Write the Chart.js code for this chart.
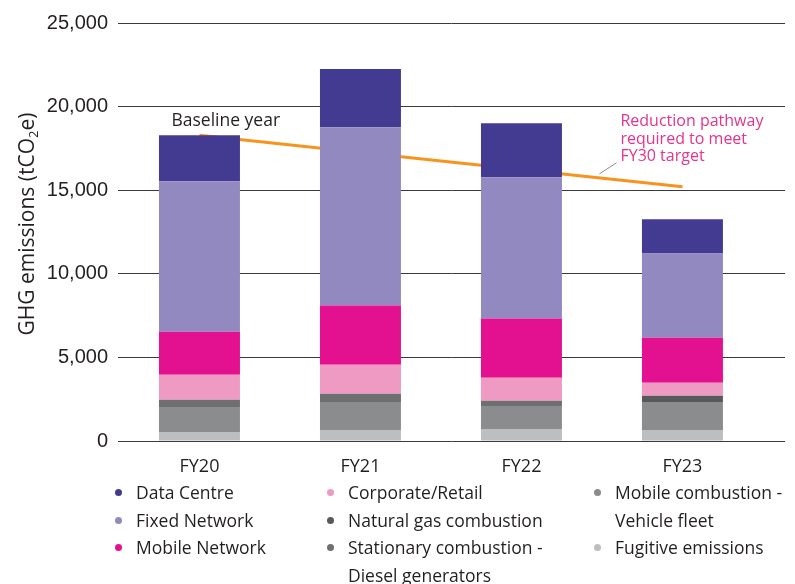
<!DOCTYPE html>
<html>
<head>
<meta charset="utf-8">
<script src="https://cdn.jsdelivr.net/npm/chart.js@4.4.1/dist/chart.umd.min.js"></script>
<style>
  html, body { margin: 0; padding: 0; background: #fff; }
  #wrap { position: relative; width: 795px; height: 584px; }
  #chartBox { position: absolute; left: 0; top: 0; width: 795px; height: 480px; }
  #legend { position: absolute; left: 0; top: 479px; width: 795px; font-family: 'Open Sans', sans-serif; font-size: 17.5px; color: #231f20; }
  .col { position: absolute; top: 0; }
  .item { position: relative; padding-left: 21px; line-height: 27.5px; white-space: nowrap; }
  .dot { position: absolute; left: 0; top: 10px; width: 7px; height: 7px; border-radius: 50%; }
</style>
</head>
<body>
<div id="wrap">
  <div id="chartBox"><canvas id="chart"></canvas></div>
  <div id="legend"></div>
</div>
<script>
// Chart data (tCO2e)
const categories = ['FY20', 'FY21', 'FY22', 'FY23'];
const dataCentre = [2760, 3480, 3240, 2040];
const fixedNetwork = [8990, 10670, 8450, 5040];
const mobileNetwork = [2580, 3540, 3540, 2700];
const corporateRetail = [1500, 1740, 1380, 780];
const naturalGas = [0, 0, 0, 360];
const stationaryDiesel = [420, 480, 300, 0];
const vehicleFleet = [1500, 1680, 1380, 1680];
const fugitive = [540, 660, 720, 660];
// Reduction pathway: baseline (FY20) to the end of the drawn line (FY23)
const pathwayYears = [0, 3];
const pathwayValues = [18290, 15200];
const yTicks = [0, 5000, 10000, 15000, 20000, 25000];

const textColor = '#231f20';
const pinkText = '#e6338c';
const fontFamily = "'Open Sans', sans-serif";

// Helper to turn a series into {x, y} points on the index axis
function points(values) {
  return values.map((v, i) => ({ x: i, y: v }));
}

function barSet(label, values, color) {
  return {
    type: 'bar',
    label: label,
    data: points(values),
    backgroundColor: color,
    borderWidth: 0,
    categoryPercentage: 1,
    barPercentage: 0.503
  };
}

// Datasets bottom to top of the stack
const datasets = [
  barSet('Fugitive emissions', fugitive, '#bdbec0'),
  barSet('Mobile combustion - Vehicle fleet', vehicleFleet, '#8b8c8e'),
  barSet('Stationary combustion - Diesel generators', stationaryDiesel, '#6e6f71'),
  barSet('Natural gas combustion', naturalGas, '#58595b'),
  barSet('Corporate/Retail', corporateRetail, '#ee9ac3'),
  barSet('Mobile Network', mobileNetwork, '#e3118f'),
  barSet('Fixed Network', fixedNetwork, '#9289c1'),
  barSet('Data Centre', dataCentre, '#433a91'),
  {
    type: 'line',
    label: 'Reduction pathway',
    data: pathwayYears.map((x, i) => ({ x: x, y: pathwayValues[i] })),
    borderColor: '#f7941d',
    borderWidth: 3,
    pointRadius: 0,
    fill: false,
    stack: 'pathway'
  }
];

// Plugin for the y title with subscript and the text annotations
const annotations = {
  id: 'annotations',
  afterDraw(chart) {
    const ctx = chart.ctx;
    const meta = chart.getDatasetMeta(datasets.length - 1);
    const start = meta.data[0];
    const end = meta.data[meta.data.length - 1];

    ctx.save();
    // y axis title
    ctx.translate(28, 224);
    ctx.rotate(-Math.PI / 2);
    ctx.fillStyle = textColor;
    ctx.textBaseline = 'middle';
    const main = '21px ' + fontFamily;
    const sub = '13px ' + fontFamily;
    const parts = [['GHG emissions (tCO', main, 0], ['2', sub, 6], ['e)', main, 0]];
    let total = 0;
    parts.forEach(p => { ctx.font = p[1]; total += ctx.measureText(p[0]).width; });
    let x = -total / 2;
    parts.forEach(p => {
      ctx.font = p[1];
      ctx.fillText(p[0], x, p[2]);
      x += ctx.measureText(p[0]).width;
    });
    ctx.restore();

    ctx.save();
    ctx.font = '17.5px ' + fontFamily;
    ctx.fillStyle = textColor;
    ctx.textBaseline = 'middle';
    ctx.fillText('Baseline year', start.x - 28, start.y - 14);

    ctx.font = '16px ' + fontFamily;
    ctx.fillStyle = pinkText;
    ['Reduction pathway', 'required to meet', 'FY30 target'].forEach((line, i) => {
      ctx.fillText(line, end.x - 62, end.y - 65 + i * 17.5);
    });

    ctx.strokeStyle = '#8c8c8c';
    ctx.lineWidth = 1;
    ctx.beginPath();
    ctx.moveTo(end.x - 83, end.y - 13);
    ctx.lineTo(end.x - 66, end.y - 24);
    ctx.stroke();
    ctx.restore();
  }
};

const chart = new Chart(document.getElementById('chart'), {
  data: { datasets: datasets },
  plugins: [annotations],
  options: {
    responsive: true,
    maintainAspectRatio: false,
    animation: false,
    layout: { padding: { top: 23, right: 10, left: 0, bottom: 0 } },
    plugins: {
      legend: { display: false },
      tooltip: { enabled: false }
    },
    scales: {
      x: {
        type: 'linear',
        offset: false,
        min: -0.506,
        max: 3.637,
        stacked: true,
        grid: { display: false, offset: false },
        border: { display: false },
        afterBuildTicks: (scale) => { scale.ticks = categories.map((c, i) => ({ value: i })); },
        afterFit: (scale) => { scale.height = 39; },
        ticks: {
          color: textColor,
          font: { family: 'Open Sans', size: 18 },
          padding: 7,
          autoSkip: false,
          maxRotation: 0,
          callback: (value) => categories[value]
        }
      },
      y: {
        stacked: true,
        min: 0,
        max: 25000,
        border: { display: false },
        grid: { color: '#3a3a3a', lineWidth: 1, drawTicks: false },
        afterBuildTicks: (scale) => { scale.ticks = yTicks.map(v => ({ value: v })); },
        afterFit: (scale) => { scale.width = 118; },
        ticks: {
          color: textColor,
          font: { family: 'Liberation Sans', size: 20 },
          padding: 10,
          callback: (value) => value.toLocaleString('en-US')
        }
      }
    }
  }
});

// HTML legend in three columns
const legendColumns = [
  { left: 115, labels: ['Data Centre', 'Fixed Network', 'Mobile Network'] },
  { left: 327, labels: ['Corporate/Retail', 'Natural gas combustion', 'Stationary combustion - Diesel generators'] },
  { left: 594, labels: ['Mobile combustion - Vehicle fleet', 'Fugitive emissions'] }
];
const legendEl = document.getElementById('legend');
legendColumns.forEach(col => {
  const colEl = document.createElement('div');
  colEl.className = 'col';
  colEl.style.left = col.left + 'px';
  col.labels.forEach(label => {
    const ds = datasets.find(d => d.label === label);
    const item = document.createElement('div');
    item.className = 'item';
    const dot = document.createElement('span');
    dot.className = 'dot';
    dot.style.background = ds.backgroundColor;
    item.appendChild(dot);
    const lines = label.split(' - ');
    lines.forEach((t, i) => {
      if (i > 0) item.appendChild(document.createElement('br'));
      item.appendChild(document.createTextNode(i < lines.length - 1 ? t + ' -' : t));
    });
    colEl.appendChild(item);
  });
  legendEl.appendChild(colEl);
});
</script>
</body>
</html>
